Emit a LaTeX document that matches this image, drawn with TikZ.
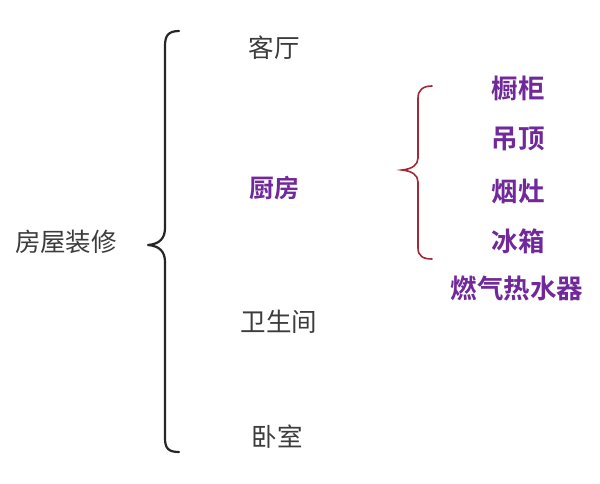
\documentclass[tikz,border=0pt]{standalone}
\usepackage{fontspec}
\setmainfont{Noto Sans CJK SC}
\newfontfamily\cjkbold{Noto Sans CJK SC Bold}
\definecolor{txtgray}{RGB}{60,60,60}
\definecolor{itempurple}{RGB}{112,40,155}
\definecolor{bracered}{RGB}{165,40,55}
\tikzset{
  plain/.style={font=\fontsize{25.5}{27}\selectfont, text=txtgray, inner sep=0pt},
  hot/.style={font=\cjkbold\fontsize{26.5}{28}\selectfont, text=itempurple, inner sep=0pt},
  bigbrace/.style={line width=2.2pt, line cap=round, line join=round},
}
\begin{document}
\begin{tikzpicture}[x=1pt,y=-1pt]
\useasboundingbox[fill=white] (0,0) rectangle (600,484);
% left title
\node[plain] (root) at (66,242) {房屋装修};
% black brace
\draw[bigbrace, black!85] (179,31) .. controls (168,31) and (165,36) .. (165,46)
  -- (165,228) .. controls (165,238) and (160,244) .. (148,245)
  .. controls (160,246) and (165,252) .. (165,262)
  -- (165,438) .. controls (165,448) and (168,452) .. (179,452);
% level 1
\node[plain] (keting) at (274,48) {客厅};
\node[hot, font=\cjkbold\fontsize{25}{27}\selectfont] (chufang) at (274,188) {厨房};
\node[plain] (wsj) at (279,322) {卫生间};
\node[plain] (woshi) at (277,437) {卧室};
% red brace
\draw[line width=1.6pt, line cap=round, bracered] (432,86) .. controls (423,86) and (418,90) .. (418,98)
  -- (418,158) .. controls (418,165) and (412,169) .. (402,170)
  .. controls (412,171) and (418,175) .. (418,182)
  -- (418,248) .. controls (418,256) and (423,259) .. (432,259);
% level 2
\node[hot] (chugui) at (518,88) {橱柜};
\node[hot] (diaoding) at (518,139) {吊顶};
\node[hot] (yanzao) at (518,192) {烟灶};
\node[hot] (bingxiang) at (518,241) {冰箱};
\node[hot] (reshuiqi) at (517,288) {燃气热水器};
\end{tikzpicture}
\end{document}
